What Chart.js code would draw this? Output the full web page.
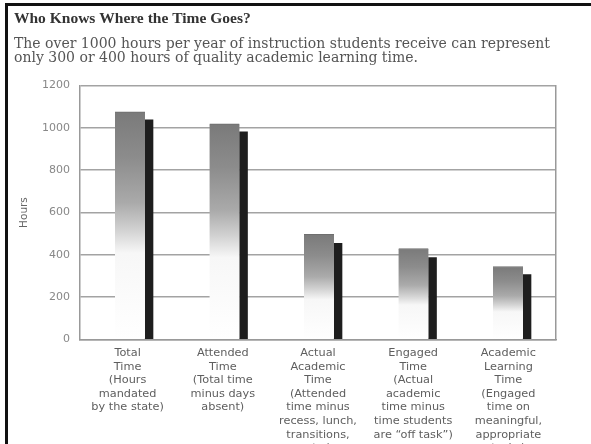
<!DOCTYPE html>
<html>
<head>
<meta charset="utf-8">
<script src="https://cdn.jsdelivr.net/npm/chart.js@4.4.1/dist/chart.umd.min.js"></script>
<style>
html,body{margin:0;padding:0;background:#fff;width:591px;height:444px;overflow:hidden;}
#wrap{position:relative;width:591px;height:444px;overflow:hidden;background:#fff;}
#frame{position:absolute;left:5px;top:3px;width:600px;height:500px;border-left:3px solid #111;border-top:3px solid #111;pointer-events:none;}
canvas{position:absolute;left:0;top:0;}
</style>
</head>
<body>
<div id="wrap"><canvas id="c" width="591" height="462"></canvas><div id="frame"></div></div>
<script>
// ---- data ----
const categoryNames = [
  ['Total', 'Time'],
  ['Attended', 'Time'],
  ['Actual', 'Academic', 'Time'],
  ['Engaged', 'Time'],
  ['Academic', 'Learning', 'Time']
];
const categoryNotes = [
  ['(Hours', 'mandated', 'by the state)'],
  ['(Total time', 'minus days', 'absent)'],
  ['(Attended', 'time minus', 'recess, lunch,', 'transitions,', 'etc.)'],
  ['(Actual', 'academic', 'time minus', 'time students', 'are \u201coff task\u201d)'],
  ['(Engaged', 'time on', 'meaningful,', 'appropriate', 'tasks)']
];
const hoursValues = [1076, 1019, 497, 430, 345];
const shadowValues = [1038, 981, 454, 387, 307];
const yTickValues = [0, 200, 400, 600, 800, 1000, 1200];
const titleText = 'Who Knows Where the Time Goes?';
const subtitleLines = [
  'The over 1000 hours per year of instruction students receive can represent',
  'only 300 or 400 hours of quality academic learning time.'
];
const yAxisTitle = 'Hours';

// ---- chart ----
const labels = categoryNames.map((n, i) => n.concat(categoryNotes[i]));

function frontFill(ctx) {
  const chart = ctx.chart;
  const ys = chart.scales && chart.scales.y;
  if (!chart.chartArea || !ys || ctx.type !== 'data' || !ctx.parsed) return '#9a9a9a';
  const top = ys.getPixelForValue(ctx.parsed.y);
  const base = ys.getPixelForValue(0);
  const g = chart.ctx.createLinearGradient(0, top, 0, base);
  g.addColorStop(0, '#7a7a7a');
  g.addColorStop(0.2, '#8c8c8c');
  g.addColorStop(0.4, '#aaaaaa');
  g.addColorStop(0.52, '#d2d2d2');
  g.addColorStop(0.62, '#f7f7f7');
  g.addColorStop(1, '#ffffff');
  return g;
}

new Chart(document.getElementById('c'), {
  type: 'bar',
  data: {
    labels: labels,
    datasets: [
      {
        label: 'Hours',
        data: hoursValues.map((v, i) => ({ x: i, y: v })),
        xAxisID: 'xb',
        yAxisID: 'y',
        barThickness: 30,
        backgroundColor: frontFill,
        borderColor: 'rgba(95,95,95,0.9)',
        borderWidth: { top: 1, left: 0, right: 0, bottom: 0 },
        borderSkipped: false
      },
      {
        label: 'Shadow',
        data: shadowValues.map((v, i) => ({ x: i, y: v })),
        xAxisID: 'xb',
        yAxisID: 'y',
        barThickness: 8,
        backgroundColor: '#1e1e1e',
        borderWidth: 0
      }
    ]
  },
  options: {
    responsive: false,
    animation: false,
    devicePixelRatio: 1,
    font: { family: 'DejaVu Sans' },
    layout: { padding: { left: 14, right: 35, top: 4, bottom: 0 } },
    plugins: {
      legend: { display: false },
      tooltip: { enabled: false },
      title: {
        display: true,
        text: titleText,
        align: 'start',
        color: '#333333',
        font: { family: 'Liberation Serif', size: 15.5, weight: 'bold', lineHeight: 1.2 },
        padding: { top: 6, bottom: 0 }
      },
      subtitle: {
        display: true,
        text: subtitleLines,
        align: 'start',
        color: '#555555',
        font: { family: 'DejaVu Serif', size: 14, weight: 'normal', lineHeight: 1.0 },
        padding: { top: 9, bottom: 20 }
      }
    },
    scales: {
      x: {
        type: 'category',
        position: 'bottom',
        offset: true,
        grid: { display: false, drawTicks: false },
        border: { display: true, color: '#999999', width: 1.5 },
        ticks: {
          color: '#5e5e5e',
          font: { family: 'DejaVu Sans', size: 11.3, lineHeight: 1.2 },
          padding: 7,
          maxRotation: 0,
          autoSkip: false
        }
      },
      xb: {
        type: 'linear',
        axis: 'x',
        position: 'bottom',
        display: false,
        offset: false,
        bounds: 'data',
        min: -0.6878,
        max: 4.3492,
        grid: { offset: false }
      },
      y: {
        type: 'linear',
        position: 'left',
        min: 0,
        max: 1200,
        afterBuildTicks: (s) => { s.ticks = yTickValues.map(v => ({ value: v })); },
        ticks: {
          color: '#888888',
          font: { family: 'DejaVu Sans', size: 11 },
          padding: 10,
          callback: (v) => String(v)
        },
        grid: { color: '#a3a3a3', lineWidth: 1.5, drawTicks: false },
        border: { display: true, color: '#999999', width: 1.5 },
        title: {
          display: true,
          text: yAxisTitle,
          color: '#666666',
          font: { family: 'DejaVu Sans', size: 10.5 },
          padding: { top: 4, bottom: 10 }
        },
        afterFit: (s) => { s.width = 66; }
      },
      y2: {
        type: 'linear',
        position: 'right',
        min: 0,
        max: 1200,
        grid: { display: false, drawTicks: false },
        ticks: { display: false },
        border: { display: true, color: '#999999', width: 1.5 },
        afterFit: (s) => { s.width = 0; }
      }
    }
  }
});
</script>
</body>
</html>
